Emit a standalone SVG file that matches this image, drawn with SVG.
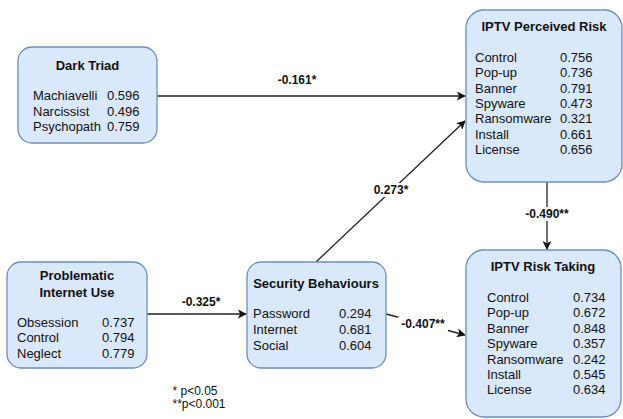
<svg xmlns="http://www.w3.org/2000/svg" width="623" height="419" viewBox="0 0 623 419">
  <style>
    .box { fill: #dae8fc; stroke: #6c8ebf; stroke-width: 1.3; }
    .title { font-family: "Liberation Sans", Arial, sans-serif; font-size: 13px; font-weight: bold; fill: #111; text-anchor: middle; }
    .row { font-family: "Liberation Sans", Arial, sans-serif; font-size: 13px; fill: #111; }
    .edge { stroke: #222; stroke-width: 1.3; fill: none; marker-end: url(#arrow); }
    .elabel { font-family: "Liberation Sans", Arial, sans-serif; font-size: 12px; font-weight: bold; fill: #111; text-anchor: middle; }
    .note { font-family: "Liberation Sans", Arial, sans-serif; font-size: 12px; fill: #111; text-anchor: middle; }
  </style>
  <defs>
    <marker id="arrow" viewBox="0 0 10 10" refX="9" refY="5" markerWidth="9" markerHeight="9" markerUnits="userSpaceOnUse" orient="auto">
      <path d="M0,0 L10,5 L0,10 L2.5,5 Z" fill="#111"/>
    </marker>
  </defs>
  <rect width="623" height="419" fill="#ffffff"/>

  <g id="connectors">
    <line class="edge" x1="157" y1="96" x2="465" y2="96"/>
    <line class="edge" x1="316" y1="262" x2="465" y2="121"/>
    <line class="edge" x1="547" y1="182" x2="547" y2="249"/>
    <line class="edge" x1="147" y1="314" x2="246" y2="314"/>
    <line class="edge" x1="386" y1="314" x2="465" y2="335"/>
    <rect x="371" y="183" width="41" height="14" fill="#fff"/>
    <rect x="522" y="207" width="51" height="14" fill="#fff"/>
    <rect x="398" y="317" width="50" height="14" fill="#fff"/>
    <text class="elabel" x="297" y="84">-0.161*</text>
    <text class="elabel" x="391" y="194">0.273*</text>
    <text class="elabel" x="547" y="218">-0.490**</text>
    <text class="elabel" x="201" y="306">-0.325*</text>
    <text class="elabel" x="423" y="328">-0.407**</text>
  </g>

  <g id="dark-triad">
    <rect class="box" x="18" y="47" width="139" height="96" rx="14"/>
    <text class="title" x="87.5" y="70">Dark Triad</text>
    <text class="row" x="33" y="100">Machiavelli</text><text class="row" x="107" y="100">0.596</text>
    <text class="row" x="33" y="116">Narcissist</text><text class="row" x="107" y="116">0.496</text>
    <text class="row" x="33" y="131">Psychopath</text><text class="row" x="107" y="131">0.759</text>
  </g>

  <g id="perceived-risk">
    <rect class="box" x="466" y="10" width="156" height="172" rx="18"/>
    <text class="title" x="544" y="31">IPTV Perceived Risk</text>
    <text class="row" x="475" y="62">Control</text><text class="row" x="560" y="62">0.756</text>
    <text class="row" x="475" y="77">Pop-up</text><text class="row" x="560" y="77">0.736</text>
    <text class="row" x="475" y="93">Banner</text><text class="row" x="560" y="93">0.791</text>
    <text class="row" x="475" y="108">Spyware</text><text class="row" x="560" y="108">0.473</text>
    <text class="row" x="475" y="123">Ransomware</text><text class="row" x="560" y="123">0.321</text>
    <text class="row" x="475" y="139">Install</text><text class="row" x="560" y="139">0.661</text>
    <text class="row" x="475" y="154">License</text><text class="row" x="560" y="154">0.656</text>
  </g>

  <g id="problematic-internet-use">
    <rect class="box" x="7" y="262" width="140" height="106" rx="14"/>
    <text class="title" x="77" y="280">Problematic</text>
    <text class="title" x="77" y="297">Internet Use</text>
    <text class="row" x="17" y="327">Obsession</text><text class="row" x="102" y="327">0.737</text>
    <text class="row" x="17" y="342">Control</text><text class="row" x="102" y="342">0.794</text>
    <text class="row" x="17" y="358">Neglect</text><text class="row" x="102" y="358">0.779</text>
  </g>

  <g id="security-behaviours">
    <rect class="box" x="247" y="262" width="139" height="106" rx="14"/>
    <text class="title" x="316" y="288">Security Behaviours</text>
    <text class="row" x="253" y="318">Password</text><text class="row" x="339" y="318">0.294</text>
    <text class="row" x="253" y="334">Internet</text><text class="row" x="339" y="334">0.681</text>
    <text class="row" x="253" y="350">Social</text><text class="row" x="339" y="350">0.604</text>
  </g>

  <g id="risk-taking">
    <rect class="box" x="466" y="250" width="155" height="167" rx="18"/>
    <text class="title" x="543" y="271">IPTV Risk Taking</text>
    <text class="row" x="487" y="302">Control</text><text class="row" x="573" y="302">0.734</text>
    <text class="row" x="487" y="317">Pop-up</text><text class="row" x="573" y="317">0.672</text>
    <text class="row" x="487" y="333">Banner</text><text class="row" x="573" y="333">0.848</text>
    <text class="row" x="487" y="348">Spyware</text><text class="row" x="573" y="348">0.357</text>
    <text class="row" x="487" y="364">Ransomware</text><text class="row" x="573" y="364">0.242</text>
    <text class="row" x="487" y="379">Install</text><text class="row" x="573" y="379">0.545</text>
    <text class="row" x="487" y="394">License</text><text class="row" x="573" y="394">0.634</text>
  </g>

  <g id="significance-note">
    <text class="note" x="195" y="395">* p&lt;0.05</text>
    <text class="note" x="199" y="408">**p&lt;0.001</text>
  </g>
</svg>
